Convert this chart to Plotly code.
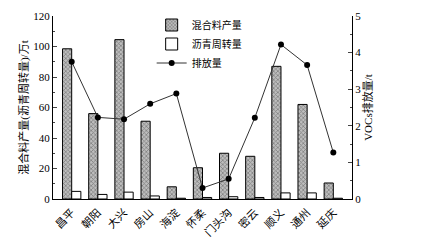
import plotly.graph_objects as go

districts = ["昌平", "朝阳", "大兴", "房山", "海淀", "怀柔", "门头沟", "密云", "顺义", "通州", "延庆"]
mix_output = [98.5, 56, 104.5, 51, 8, 20.5, 30, 28, 87, 62, 10.5]
asphalt_turnover = [5, 3, 4.5, 2, 0.5, 1, 1.5, 1, 4, 4, 0.5]
vocs_emission = [3.75, 2.23, 2.18, 2.6, 2.88, 0.3, 0.55, 2.22, 4.22, 3.66, 1.27]

serif = "Liberation Serif, Noto Sans CJK SC"

fig = go.Figure()
fig.add_trace(go.Bar(
    x=districts, y=mix_output, name="混合料产量",
    marker=dict(color="#9a9a9a", line=dict(color="black", width=1),
                pattern=dict(shape="x", size=3, solidity=0.4, fgcolor="#333333", bgcolor="#bdbdbd")),
))
fig.add_trace(go.Bar(
    x=districts, y=asphalt_turnover, name="沥青周转量",
    marker=dict(color="white", line=dict(color="black", width=1)),
))
fig.add_trace(go.Scatter(
    x=districts, y=vocs_emission, name="排放量", yaxis="y2",
    mode="lines+markers",
    line=dict(color="#333333", width=1),
    marker=dict(color="black", size=6),
))

fig.update_layout(
    width=413, height=237,
    margin=dict(l=45, r=69, t=8, b=46, autoexpand=False),
    paper_bgcolor="white", plot_bgcolor="white",
    barmode="group", bargap=0.3, bargroupgap=0,
    font=dict(family=serif, size=11, color="black"),
    showlegend=True,
    legend=dict(x=0.33, y=1.03, xanchor="left", yanchor="top",
                bgcolor="rgba(0,0,0,0)", font=dict(size=10),
                tracegroupgap=0),
    xaxis=dict(showline=True, linecolor="black", linewidth=1, ticks="",
               tickangle=-45, tickfont=dict(size=11), ticklabelstandoff=2, mirror=False),
    yaxis=dict(range=[0, 120], dtick=20, showline=True, linecolor="black", linewidth=1,
               ticks="inside", ticklen=4, showgrid=False, zeroline=False,
               minor=dict(ticks="inside", ticklen=2, dtick=10),
               title=dict(text="混合料产量(沥青周转量)/万t", font=dict(size=11), standoff=2),
               tickfont=dict(size=11)),
    yaxis2=dict(range=[0, 5], dtick=1, overlaying="y", side="right", showline=True,
                linecolor="black", linewidth=1, ticks="inside", ticklen=4,
                showgrid=False, zeroline=False,
                minor=dict(ticks="inside", ticklen=2, dtick=0.5),
                title=dict(text="VOCs排放量/t", font=dict(size=11), standoff=4),
                tickfont=dict(size=11)),
)

fig.write_html("out.html")
